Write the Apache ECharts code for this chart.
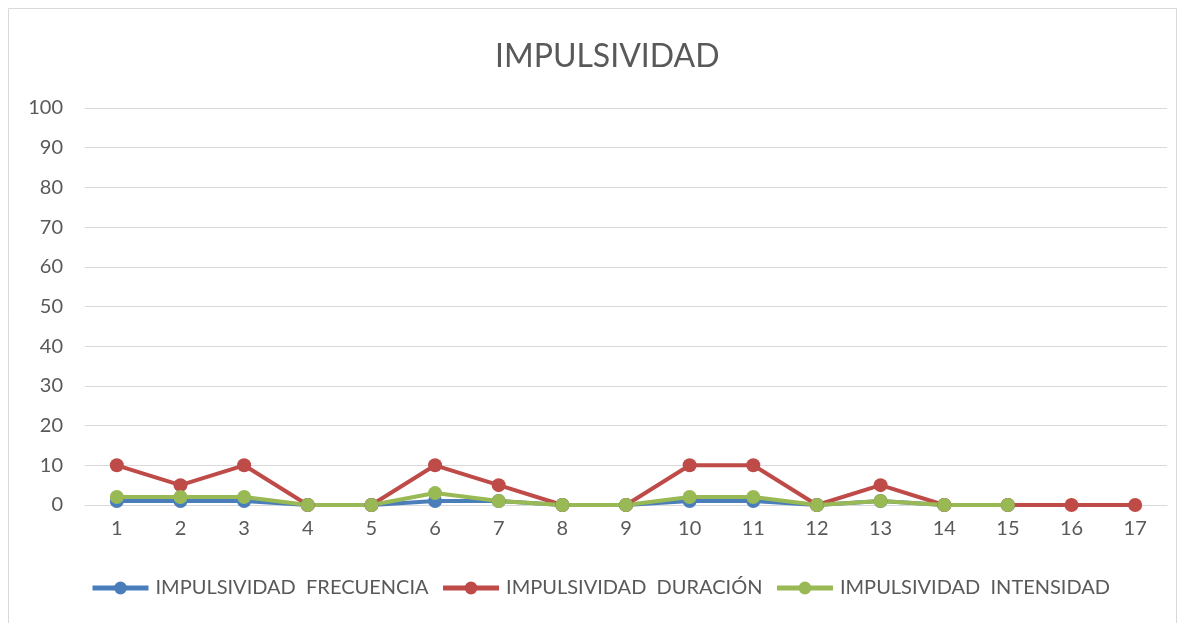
<!DOCTYPE html>
<html><head><meta charset="utf-8">
<script src="https://cdn.jsdelivr.net/npm/echarts@6/dist/echarts.min.js"></script>
<style>html,body{margin:0;padding:0;background:#fff}#c{width:1183px;height:623px}</style>
</head><body><div id="c"></div>
<script>
const categories = ['1','2','3','4','5','6','7','8','9','10','11','12','13','14','15','16','17'];
const frecuencia = [1,1,1,0,0,1,1,0,0,1,1,0,1,0,0,null,null];
const duracion = [10,5,10,0,0,10,5,0,0,10,10,0,5,0,0,0,0];
const intensidad = [2,2,2,0,0,3,1,0,0,2,2,0,1,0,0,null,null];
const seriesNames = ['IMPULSIVIDAD  FRECUENCIA','IMPULSIVIDAD  DURACIÓN','IMPULSIVIDAD  INTENSIDAD'];
const colors = ['#4a7ebb','#be4b48','#98b954'];
const font = 'Lato, "Open Sans", sans-serif';
const chart = echarts.init(document.getElementById('c'));
const mk = (name, data, color) => ({
  name, type:'line', data, symbol:'circle', symbolSize:14,
  lineStyle:{width:4,color}, itemStyle:{color}, connectNulls:false
});
chart.setOption({
  animation:false,
  graphic:[{type:'rect',shape:{x:8.5,y:8.5,width:1168,height:640},style:{fill:'none',stroke:'#d9d9d9',lineWidth:1}}],
  title:{text:'IMPULSIVIDAD',left:490,top:36,textStyle:{fontFamily:font,fontSize:32,fontWeight:'normal',color:'#595959'}},
  legend:{bottom:20,left:85,itemWidth:56,itemHeight:16,itemGap:12,
    lineStyle:{width:5},
    textStyle:{fontFamily:font,fontSize:20,color:'#595959',padding:[0,0,0,2]},data:seriesNames},
  grid:{left:85,right:16,top:108,bottom:118},
  xAxis:{type:'category',data:categories,boundaryGap:true,
    axisLine:{lineStyle:{color:'#d9d9d9'}},axisTick:{show:false},
    axisLabel:{fontFamily:font,fontSize:20,color:'#595959',margin:14}},
  yAxis:{type:'value',min:0,max:100,interval:10,
    axisLine:{show:false},axisTick:{show:false},
    splitLine:{lineStyle:{color:'#d9d9d9'}},
    axisLabel:{fontFamily:font,fontSize:20,color:'#595959',margin:22}},
  series:[mk(seriesNames[0],frecuencia,colors[0]),mk(seriesNames[1],duracion,colors[1]),mk(seriesNames[2],intensidad,colors[2])]
});
</script></body></html>
